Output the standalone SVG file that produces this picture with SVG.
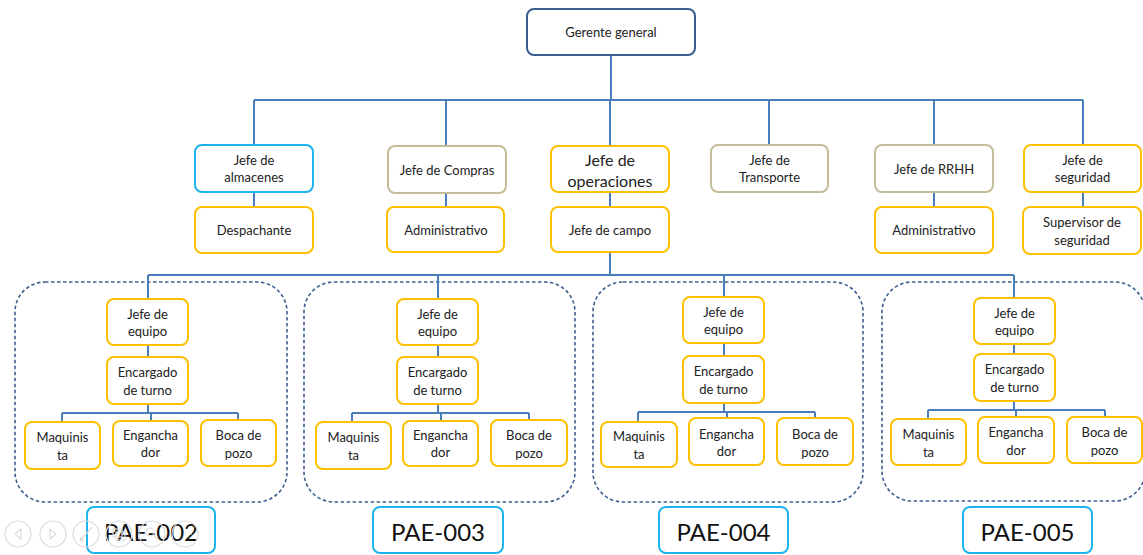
<svg xmlns="http://www.w3.org/2000/svg" width="1143" height="555" viewBox="0 0 1143 555">
<style>
.box{fill:#fff;stroke-width:2}
.y{stroke:#FFC000}
.t{stroke:#C4BD97}
.b{stroke:#1CB4EC}
.g{stroke:#3B5E8C}
.ln{fill:none;stroke:#4A7EBB;stroke-width:2}
.grp{fill:none;stroke:#3F5F8F;stroke-width:1.6;stroke-dasharray:3.5 2.5}
text{font-family:Lato,"Liberation Sans",sans-serif;font-size:13px;fill:#222;text-anchor:middle;dominant-baseline:central}
.big{font-size:16px}
.pae{font-size:24px;fill:#111}
.ctl{fill:none;stroke:#dcdcdc;stroke-width:1.2}
.ic{fill:none;stroke:#dcdcdc;stroke-width:1.2}
</style>
<rect width="1143" height="555" fill="#fff"/>
<g id="containers">
<rect class="grp" x="15" y="282" width="272" height="220" rx="30"/>
<rect class="grp" x="304" y="282" width="271" height="220" rx="30"/>
<rect class="grp" x="593" y="282" width="270" height="220" rx="30"/>
<rect class="grp" x="882" y="282" width="263" height="219" rx="30"/>
</g>
<g id="connectors">
<path class="ln" d="M611 55V100M254 100H1083M254 100V145M446 100V146M610 100V146M769 100V145M934 100V145M1083 100V145"/>
<path class="ln" d="M254 192V207M446 193V207M610 192V207M934 192V207M1083 192V207"/>
<path class="ln" d="M610 252V275M148 275H1014M148 275V299M438 275V299M724 275V297M1014 275V298"/>
<path class="ln" d="M148 345V357M148 404V413M62 413H238M62 413V422M151 413V421M238 413V420"/>
<path class="ln" d="M438 345V357M438 404V413M352 413H529M352 413V422M441 413V421M529 413V420"/>
<path class="ln" d="M724 343V356M724 403V412M638 412H815M638 412V422M727 412V418M815 412V418"/>
<path class="ln" d="M1014 344V354M1014 401V410M928 410H1105M928 410V419M1016 410V417M1105 410V417"/>
</g>
<g id="n-gerente"><rect class="box g" x="527" y="9" width="168" height="46" rx="7"/><text x="611" y="32">Gerente general</text></g>
<g id="n-almacenes"><rect class="box b" x="195" y="145" width="118" height="47" rx="7"/><text x="254" y="160">Jefe de</text><text x="254" y="177">almacenes</text></g>
<g id="n-despachante"><rect class="box y" x="195" y="207" width="118" height="46" rx="7"/><text x="254" y="230">Despachante</text></g>
<g id="n-compras"><rect class="box t" x="388" y="146" width="118" height="47" rx="7"/><text x="447" y="169.5">Jefe de Compras</text></g>
<g id="n-admin1"><rect class="box y" x="387" y="207" width="117" height="45" rx="7"/><text x="446" y="229.5">Administrativo</text></g>
<g id="n-operaciones"><rect class="box y" x="551" y="146" width="118" height="46" rx="7"/><text class="big" x="610" y="159">Jefe de</text><text class="big" x="610" y="180">operaciones</text></g>
<g id="n-campo"><rect class="box y" x="551" y="207" width="118" height="45" rx="7"/><text x="610" y="229.5">Jefe de campo</text></g>
<g id="n-transporte"><rect class="box t" x="711" y="145" width="117" height="47" rx="7"/><text x="769.5" y="160">Jefe de</text><text x="769.5" y="177">Transporte</text></g>
<g id="n-rrhh"><rect class="box t" x="875" y="145" width="118" height="47" rx="7"/><text x="934" y="168.5">Jefe de RRHH</text></g>
<g id="n-admin2"><rect class="box y" x="875" y="207" width="118" height="46" rx="7"/><text x="934" y="230">Administrativo</text></g>
<g id="n-seguridad"><rect class="box y" x="1024" y="145" width="117" height="47" rx="7"/><text x="1082.5" y="160">Jefe de</text><text x="1082.5" y="177">seguridad</text></g>
<g id="n-supervisor"><rect class="box y" x="1023" y="207" width="118" height="47" rx="7"/><text x="1082" y="222">Supervisor de</text><text x="1082" y="239.5">seguridad</text></g>

<g id="pae002">
<rect class="box y" x="107" y="299" width="81" height="46" rx="7"/><text x="147.5" y="313.5">Jefe de</text><text x="147.5" y="331">equipo</text>
<rect class="box y" x="107" y="357" width="81" height="47" rx="7"/><text x="147.5" y="372">Encargado</text><text x="147.5" y="389.5">de turno</text>
<rect class="box y" x="25" y="422" width="75" height="47" rx="7"/><text x="62.5" y="437">Maquinis</text><text x="62.5" y="455">ta</text>
<rect class="box y" x="113" y="421" width="75" height="45" rx="7"/><text x="150.5" y="435">Engancha</text><text x="150.5" y="452">dor</text>
<rect class="box y" x="201" y="420" width="75" height="46" rx="7"/><text x="238.5" y="435">Boca de</text><text x="238.5" y="452.5">pozo</text>
<rect class="box b" x="87" y="507" width="128" height="46" rx="7"/><text class="pae" x="151" y="531">PAE-002</text>
</g>
<g id="pae003">
<rect class="box y" x="397" y="299" width="81" height="46" rx="7"/><text x="437.5" y="313.5">Jefe de</text><text x="437.5" y="331">equipo</text>
<rect class="box y" x="397" y="357" width="81" height="47" rx="7"/><text x="437.5" y="372">Encargado</text><text x="437.5" y="389.5">de turno</text>
<rect class="box y" x="316" y="422" width="75" height="47" rx="7"/><text x="353.5" y="437">Maquinis</text><text x="353.5" y="455">ta</text>
<rect class="box y" x="403" y="421" width="75" height="45" rx="7"/><text x="440.5" y="435">Engancha</text><text x="440.5" y="452">dor</text>
<rect class="box y" x="491" y="420" width="76" height="46" rx="7"/><text x="529" y="435">Boca de</text><text x="529" y="452.5">pozo</text>
<rect class="box b" x="373" y="507" width="130" height="46" rx="7"/><text class="pae" x="438" y="531">PAE-003</text>
</g>
<g id="pae004">
<rect class="box y" x="683" y="297" width="81" height="46" rx="7"/><text x="723.5" y="311.5">Jefe de</text><text x="723.5" y="329">equipo</text>
<rect class="box y" x="683" y="356" width="81" height="47" rx="7"/><text x="723.5" y="371">Encargado</text><text x="723.5" y="388.5">de turno</text>
<rect class="box y" x="601" y="422" width="76" height="45" rx="7"/><text x="639" y="436">Maquinis</text><text x="639" y="454">ta</text>
<rect class="box y" x="689" y="418" width="75" height="47" rx="7"/><text x="726.5" y="434">Engancha</text><text x="726.5" y="451">dor</text>
<rect class="box y" x="777" y="418" width="76" height="47" rx="7"/><text x="815" y="434">Boca de</text><text x="815" y="451.5">pozo</text>
<rect class="box b" x="659" y="507" width="129" height="46" rx="7"/><text class="pae" x="723.5" y="531">PAE-004</text>
</g>
<g id="pae005">
<rect class="box y" x="974" y="298" width="81" height="46" rx="7"/><text x="1014.5" y="312.5">Jefe de</text><text x="1014.5" y="330">equipo</text>
<rect class="box y" x="974" y="354" width="81" height="47" rx="7"/><text x="1014.5" y="369">Encargado</text><text x="1014.5" y="386.5">de turno</text>
<rect class="box y" x="891" y="419" width="75" height="46" rx="7"/><text x="928.5" y="434">Maquinis</text><text x="928.5" y="451.5">ta</text>
<rect class="box y" x="978" y="417" width="76" height="46" rx="7"/><text x="1016" y="432">Engancha</text><text x="1016" y="449.5">dor</text>
<rect class="box y" x="1067" y="417" width="75" height="46" rx="7"/><text x="1104.5" y="432">Boca de</text><text x="1104.5" y="449.5">pozo</text>
<rect class="box b" x="963" y="507" width="129" height="46" rx="7"/><text class="pae" x="1027.5" y="531">PAE-005</text>
</g>

<g id="controls">
<circle class="ctl" cx="18" cy="534" r="13"/><path class="ic" d="M21 529L15 534L21 539Z"/>
<circle class="ctl" cx="53" cy="534" r="13"/><path class="ic" d="M50 529L56 534L50 539Z"/>
<circle class="ctl" cx="86" cy="534" r="13"/><path class="ic" d="M80 541L92 527M80 541L81 537M80 541L84 540"/>
<circle class="ctl" cx="119" cy="534" r="13"/><rect class="ic" x="113" y="529" width="9" height="8"/><rect class="ic" x="116" y="532" width="9" height="8"/>
<circle class="ctl" cx="152" cy="534" r="13"/><circle class="ic" cx="150" cy="532" r="4"/><path class="ic" d="M153 535L158 540"/>
<circle class="ctl" cx="185" cy="534" r="13"/><path class="ic" d="M179 534h1M185 534h1M191 534h1"/>
</g>
</svg>
